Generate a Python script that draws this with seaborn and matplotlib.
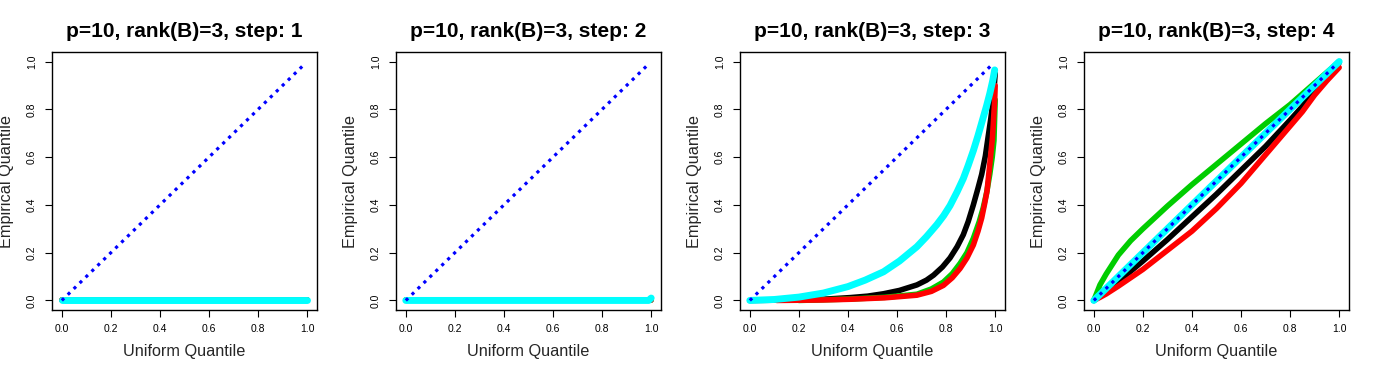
import matplotlib
matplotlib.use("Agg")
import matplotlib.pyplot as plt
import seaborn as sns
import pandas as pd

# --- données --------------------------------------------------------------
STEPS = [1, 2, 3, 4]

# étapes 1 et 2 : toutes les courbes collées à 0
flat_x = [0.0, 0.25, 0.5, 0.75, 1.0]
flat_y = [0.0, 0.0, 0.0, 0.0, 0.0]
step2_cyan_x = [0.0, 0.5, 0.99, 1.0]
step2_cyan_y = [0.0, 0.0, 0.0, 0.01]

# étape 3
s3_cyan_x = [0.0, 0.1, 0.2, 0.3, 0.4, 0.47, 0.545, 0.61, 0.681, 0.72, 0.762,
             0.79, 0.816, 0.845, 0.87, 0.89, 0.911, 0.93, 0.951, 0.965,
             0.978, 0.99, 0.998]
s3_cyan_y = [0.0, 0.004, 0.014, 0.031, 0.058, 0.085, 0.12, 0.165, 0.225, 0.267,
             0.317, 0.355, 0.397, 0.455, 0.51, 0.565, 0.627, 0.69, 0.765, 0.815,
             0.866, 0.92, 0.965]
s3_black_x = [0.0, 0.2, 0.3, 0.41, 0.48, 0.545, 0.61, 0.681, 0.72, 0.749, 0.785,
              0.816, 0.845, 0.87, 0.89, 0.911, 0.93, 0.945, 0.96, 0.972,
              0.982, 0.992, 1.0]
s3_black_y = [0.0, 0.002, 0.005, 0.012, 0.018, 0.028, 0.042, 0.065, 0.085, 0.106,
              0.14, 0.178, 0.225, 0.275, 0.33, 0.4, 0.47, 0.528, 0.605, 0.69,
              0.76, 0.84, 0.95]
s3_red_x = [0.11, 0.3, 0.41, 0.55, 0.681, 0.74, 0.789, 0.825, 0.857, 0.885,
            0.911, 0.93, 0.945, 0.957, 0.967, 0.978, 0.989, 0.998, 1.0]
s3_red_y = [0.0, 0.002, 0.005, 0.011, 0.022, 0.038, 0.063, 0.095, 0.134, 0.178,
            0.232, 0.29, 0.345, 0.405, 0.46, 0.57, 0.683, 0.838, 0.9]
s3_green_x = [0.2, 0.41, 0.55, 0.681, 0.74, 0.789, 0.825, 0.857, 0.885, 0.911,
              0.935, 0.951, 0.965, 0.978, 0.988, 0.995, 1.0]
s3_green_y = [0.0, 0.006, 0.013, 0.026, 0.048, 0.077, 0.112, 0.155, 0.2, 0.26,
              0.33, 0.387, 0.45, 0.528, 0.6, 0.669, 0.84]

# étape 4
s4_x = [0.0, 0.025, 0.05, 0.1, 0.15, 0.2, 0.3, 0.4, 0.5, 0.6, 0.7, 0.8,
        0.85, 0.9, 0.95, 1.0]
s4_green = [0.0, 0.065, 0.11, 0.19, 0.25, 0.3, 0.395, 0.485, 0.57, 0.655, 0.74,
            0.82, 0.865, 0.91, 0.955, 1.0]
s4_black = [0.0, 0.02, 0.04, 0.08, 0.122, 0.165, 0.255, 0.35, 0.445, 0.545,
            0.645, 0.755, 0.812, 0.875, 0.935, 0.995]
s4_red = [0.0, 0.013, 0.027, 0.06, 0.095, 0.13, 0.21, 0.29, 0.385, 0.49,
          0.61, 0.73, 0.79, 0.86, 0.92, 0.975]
s4_cyan = [0.0, 0.025, 0.05, 0.1, 0.15, 0.2, 0.3, 0.4, 0.5, 0.6, 0.7, 0.8,
           0.85, 0.9, 0.95, 1.0]

# diagonale de référence
diag_x = [0.0, 0.99]
diag_y = [0.0, 0.99]

ticks = [0.0, 0.2, 0.4, 0.6, 0.8, 1.0]
tick_labels = ["0.0", "0.2", "0.4", "0.6", "0.8", "1.0"]

COLORS = {"black": "#000000", "red": "#FF0000", "green": "#00CD00",
          "cyan": "#00FFFF", "blue": "#0000FF"}

# courbes par étape, dans l'ordre de tracé
curves = {
    1: [("black", flat_x, flat_y), ("green", flat_x, flat_y),
        ("red", flat_x, flat_y), ("cyan", flat_x, flat_y)],
    2: [("black", flat_x, flat_y), ("green", flat_x, flat_y),
        ("red", flat_x, flat_y), ("cyan", step2_cyan_x, step2_cyan_y)],
    3: [("black", s3_black_x, s3_black_y), ("green", s3_green_x, s3_green_y),
        ("red", s3_red_x, s3_red_y), ("cyan", s3_cyan_x, s3_cyan_y)],
    4: [("black", s4_x, s4_black), ("green", s4_x, s4_green),
        ("red", s4_x, s4_red), ("cyan", s4_x, s4_cyan)],
}

sns.set_style("ticks")
plt.rcParams.update({
    "font.family": ["Liberation Sans", "DejaVu Sans"],
    "axes.edgecolor": "black",
    "axes.linewidth": 1.0,
    "text.color": "black",
    "xtick.color": "black",
    "ytick.color": "black",
})

W, H = 1376, 373
fig = plt.figure(figsize=(W / 100, H / 100), dpi=100)

for i, step in enumerate(STEPS):
    left = 52 + 344 * i
    ax = fig.add_axes([left / W, 63 / H, 265 / W, 258 / H])
    for col, xs, ys in curves[step]:
        df = pd.DataFrame({"x": xs, "y": ys})
        lw = 5.0 if col == "cyan" else 4.0
        sns.lineplot(data=df, x="x", y="y", ax=ax, color=COLORS[col],
                     lw=lw, sort=False, solid_capstyle="round",
                     solid_joinstyle="round")
    ax.plot(diag_x, diag_y, color=COLORS["blue"], lw=2.3,
            linestyle=(0, (1, 1.6)))
    ax.set_xlim(-0.04, 1.04)
    ax.set_ylim(-0.04, 1.04)
    ax.set_xticks(ticks)
    ax.set_xticklabels(tick_labels)
    ax.set_yticks(ticks)
    ax.set_yticklabels(tick_labels, rotation=90, va="center")
    ax.tick_params(axis="both", length=5, width=0.8, labelsize=7.5)
    ax.tick_params(axis="x", pad=5)
    ax.tick_params(axis="y", pad=6)
    for s in ax.spines.values():
        s.set_visible(True)
        s.set_linewidth(1.0)
    ax.set_xlabel("Uniform Quantile", fontsize=11.7, labelpad=7)
    ax.set_ylabel("Empirical Quantile", fontsize=11.7, labelpad=9)
    ax.set_title(f"p=10, rank(B)=3, step: {step}", fontsize=15,
                 fontweight="bold", pad=11)

fig.savefig("out.png", dpi=100, facecolor="white")
